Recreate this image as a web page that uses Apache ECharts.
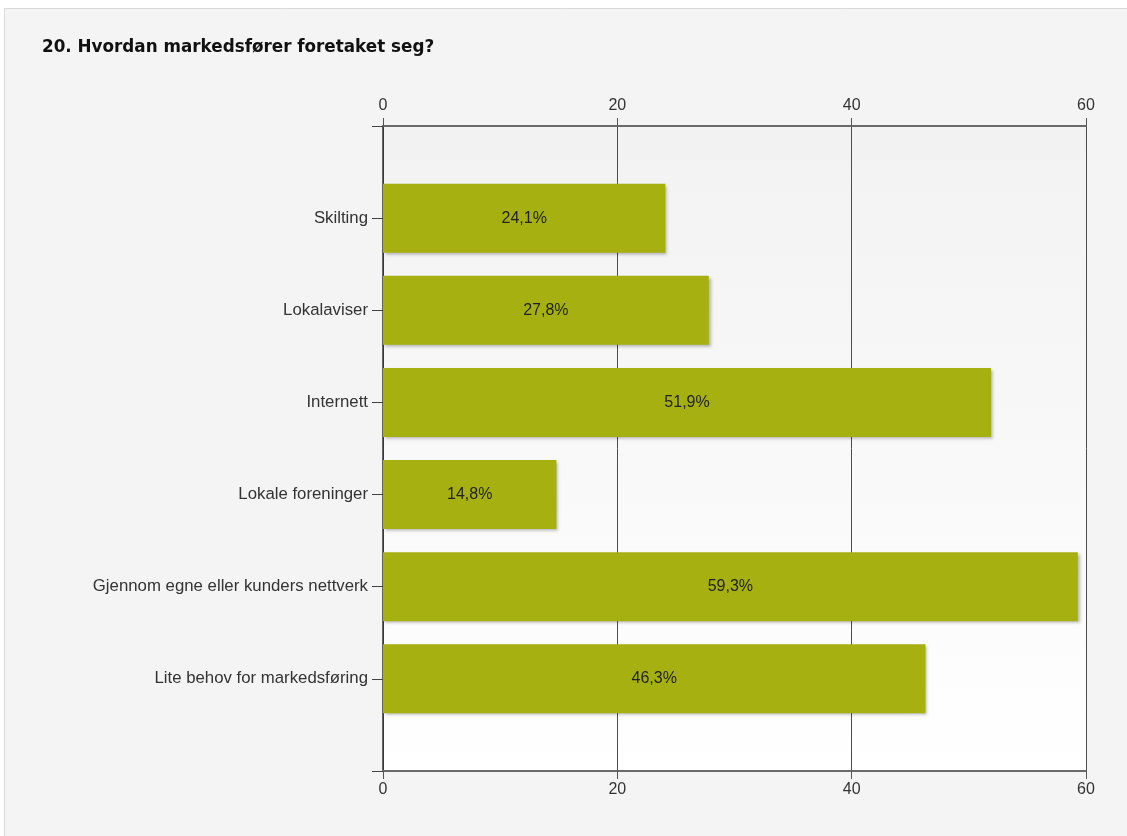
<!DOCTYPE html>
<html>
<head>
<meta charset="utf-8">
<script src="https://cdn.jsdelivr.net/npm/echarts@6/dist/echarts.min.js"></script>
<style>
  html, body { margin: 0; padding: 0; background: #ffffff; }
  #chart { width: 1127px; height: 836px; }
</style>
</head>
<body>
<div id="chart"></div>
<script>
// Survey answers (percent of respondents); empty slots pad the top and bottom of the band axis
const categories = ['Skilting', 'Lokalaviser', 'Internett', 'Lokale foreninger',
  'Gjennom egne eller kunders nettverk', 'Lite behov for markedsføring'];
const percentages = [24.1, 27.8, 51.9, 14.8, 59.3, 46.3];
const tickValues = [0, 20, 40, 60];

const yCats = [''].concat(categories, ['']);
const yVals = [null].concat(percentages, [null]);

const chart = echarts.init(document.getElementById('chart'), null, { renderer: 'canvas' });

const fmtPct = v => v.toFixed(1).replace('.', ',') + '%';

const valueAxisBase = {
  type: 'value',
  min: tickValues[0],
  max: tickValues[tickValues.length - 1],
  interval: tickValues[1] - tickValues[0],
  axisLine: { show: true, lineStyle: { color: '#6a6a6a', width: 2 } },
  axisTick: { show: true, length: 8, lineStyle: { color: '#555', width: 1 } },
  axisLabel: {
    color: '#333', fontFamily: 'Liberation Sans, Arial, sans-serif', fontSize: 16,
    formatter: v => String(v)
  },
  splitLine: { show: true, lineStyle: { color: '#4d4d4d', width: 1 } }
};

chart.setOption({
  backgroundColor: '#ffffff',
  animation: false,
  graphic: [{
    type: 'rect',
    z: -10,
    shape: { x: 4.5, y: 8.5, width: 1130, height: 840 },
    style: { fill: '#f4f4f4', stroke: '#dadada', lineWidth: 1 }
  }],
  title: {
    text: '20. Hvordan markedsfører foretaket seg?',
    left: 37, top: 34,
    textStyle: {
      fontFamily: 'DejaVu Sans, Verdana, sans-serif', fontWeight: 'bold',
      fontSize: 16.8, color: '#111'
    }
  },
  grid: {
    left: 383, right: 41, top: 126, bottom: 65,
    show: true, borderWidth: 0,
    backgroundColor: {
      type: 'linear', x: 0, y: 0, x2: 0, y2: 1,
      colorStops: [{ offset: 0, color: '#f2f2f2' }, { offset: 1, color: '#ffffff' }]
    }
  },
  xAxis: [
    Object.assign({}, valueAxisBase, { position: 'top', axisLabel: Object.assign({}, valueAxisBase.axisLabel, { margin: 12 }) }),
    Object.assign({}, valueAxisBase, { position: 'bottom', splitLine: { show: false }, axisLabel: Object.assign({}, valueAxisBase.axisLabel, { margin: 11 }) })
  ],
  yAxis: {
    type: 'category',
    data: yCats,
    inverse: true,
    boundaryGap: false,
    axisLine: { show: true, lineStyle: { color: '#333', width: 1.5 } },
    axisTick: { show: true, length: 11, interval: 0, lineStyle: { color: '#444', width: 1 } },
    axisLabel: {
      margin: 15, interval: 0, color: '#333',
      fontFamily: 'Liberation Sans, Arial, sans-serif', fontSize: 16.8
    },
    splitLine: { show: false }
  },
  series: [{
    type: 'bar',
    xAxisIndex: 0,
    data: yVals,
    barWidth: 69,
    itemStyle: {
      color: '#a6b010',
      shadowColor: 'rgba(0,0,0,0.28)',
      shadowBlur: 3,
      shadowOffsetX: 2,
      shadowOffsetY: 2
    },
    label: {
      show: true, position: 'inside', color: '#222',
      fontFamily: 'Liberation Sans, Arial, sans-serif', fontSize: 16,
      formatter: p => (p.value == null ? '' : fmtPct(p.value))
    }
  }]
});
</script>
</body>
</html>
